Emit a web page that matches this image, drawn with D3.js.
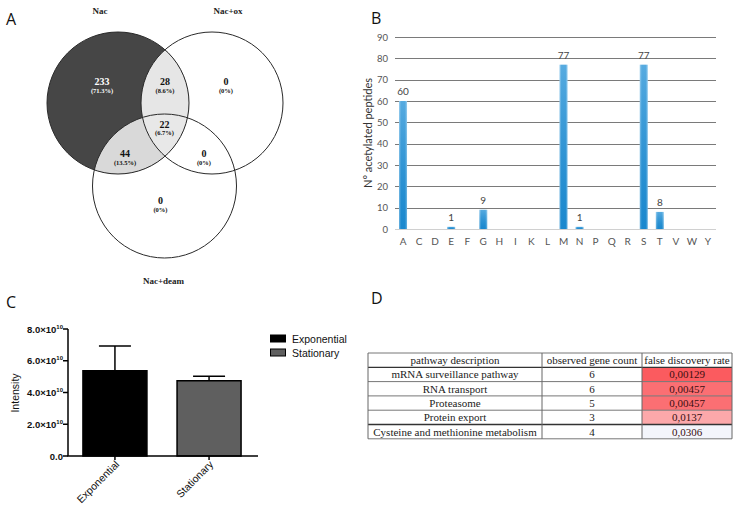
<!DOCTYPE html>
<html>
<head>
<meta charset="utf-8">
<script src="https://cdn.jsdelivr.net/npm/d3@7"></script>
<style>
  html, body { margin: 0; padding: 0; background: #fff; }
  svg { display: block; }
</style>
</head>
<body>
<svg id="fig" width="742" height="513"></svg>
<script>
// ---------------- DATA ----------------
// Panel A (Venn)
const vennSets = ["Nac", "Nac+ox", "Nac+deam"];
const vennRegions = ["Nac", "Nac∩ox", "ox", "Nac∩ox∩deam", "Nac∩deam", "ox∩deam", "deam"];
const vennCounts = [233, 28, 0, 22, 44, 0, 0];
const vennPercents = ["71.3%", "8.6%", "0%", "6.7%", "13.5%", "0%", "0%"];

// Panel B
const residues = ["A","C","D","E","F","G","H","I","K","L","M","N","P","Q","R","S","T","V","W","Y"];
const peptideCounts = [60,0,0,1,0,9,0,0,0,0,77,1,0,0,0,77,8,0,0,0];
const bTicks = [0,10,20,30,40,50,60,70,80,90];

// Panel C
const phases = ["Exponential", "Stationary"];
const intensityMean = [5.37e10, 4.74e10];
const intensitySD = [1.56e10, 0.28e10];
const cTicks = [0, 2e10, 4e10, 6e10, 8e10];

// Panel D
const tableHeader = ["pathway description", "observed gene count", "false discovery rate"];
const pathways = ["mRNA surveillance pathway", "RNA transport", "Proteasome", "Protein export", "Cysteine and methionine metabolism"];
const geneCounts = [6, 6, 5, 3, 4];
const fdrValues = [0.00129, 0.00457, 0.00457, 0.0137, 0.0306];
const fdrLabels = ["0,00129", "0,00457", "0,00457", "0,0137", "0,0306"];

// ---------------- DRAW ----------------
const svg = d3.select("#fig");
const panelFont = "'Open Sans', 'Liberation Sans', sans-serif";

function panelLabel(t, x, y) {
  svg.append("text").attr("x", x).attr("y", y).text(t)
    .attr("font-family", panelFont).attr("font-size", 16).attr("fill", "#111");
}
panelLabel("A", 6, 25);
panelLabel("B", 371, 24);
panelLabel("C", 6, 308);
panelLabel("D", 371, 304);

// ===== Panel A: Venn =====
(function () {
  const circles = [
    { cx: 118, cy: 103, r: 71 },
    { cx: 212, cy: 103, r: 71 },
    { cx: 164.5, cy: 186, r: 72 }
  ];
  const defs = svg.append("defs");
  circles.forEach((c, i) => {
    defs.append("clipPath").attr("id", "vc" + i)
      .append("circle").attr("cx", c.cx).attr("cy", c.cy).attr("r", c.r);
  });
  const g = svg.append("g");
  const nac = circles[0];
  g.append("circle").attr("cx", nac.cx).attr("cy", nac.cy).attr("r", nac.r).attr("fill", "#464646");
  g.append("g").attr("clip-path", "url(#vc1)")
    .append("circle").attr("cx", nac.cx).attr("cy", nac.cy).attr("r", nac.r).attr("fill", "#e6e6e6");
  g.append("g").attr("clip-path", "url(#vc2)")
    .append("circle").attr("cx", nac.cx).attr("cy", nac.cy).attr("r", nac.r).attr("fill", "#d9d9d9");
  g.append("g").attr("clip-path", "url(#vc2)")
    .append("g").attr("clip-path", "url(#vc1)")
    .append("circle").attr("cx", nac.cx).attr("cy", nac.cy).attr("r", nac.r).attr("fill", "#e8e8e8");
  g.selectAll("circle.outline").data(circles).join("circle").attr("class", "outline")
    .attr("cx", d => d.cx).attr("cy", d => d.cy).attr("r", d => d.r)
    .attr("fill", "none").attr("stroke", "#2a2a2a").attr("stroke-width", 1);

  // set titles
  const serif = "'Liberation Serif', 'DejaVu Serif', serif";
  const titlePos = [
    [nac.cx - 18, 14],
    [circles[1].cx + 16, 14],
    [circles[2].cx - 1, 284]
  ];
  vennSets.forEach((s, i) => {
    svg.append("text").attr("x", titlePos[i][0]).attr("y", titlePos[i][1]).text(s)
      .attr("text-anchor", "middle").attr("font-family", serif).attr("font-weight", "bold")
      .attr("font-size", 9).attr("fill", "#222");
  });

  // region label anchors derived from circle geometry
  const c0 = circles[0], c1 = circles[1], c2 = circles[2];
  const anchors = [
    [c0.cx - 16, c0.cy - 18],
    [(c0.cx + c1.cx) / 2, c0.cy - 18],
    [c1.cx + 14, c1.cy - 18],
    [c2.cx, (c0.cy + c2.cy) / 2 - 17],
    [c0.cx + 7, c2.cy - 29],
    [c1.cx - 8, c2.cy - 29],
    [c2.cx - 4, c2.cy + 18]
  ];
  vennRegions.forEach((r, i) => {
    const [x, y] = anchors[i];
    const col = i === 0 ? "#ffffff" : "#111";
    svg.append("text").attr("x", x).attr("y", y).text(vennCounts[i])
      .attr("text-anchor", "middle").attr("font-family", serif).attr("font-weight", "bold")
      .attr("font-size", 10).attr("fill", col);
    svg.append("text").attr("x", x).attr("y", y + 7.5).text("(" + vennPercents[i] + ")")
      .attr("text-anchor", "middle").attr("font-family", serif).attr("font-weight", "bold")
      .attr("font-size", 6.5).attr("fill", col);
  });
})();

// ===== Panel B: bar chart =====
(function () {
  const font = "Lato, 'Open Sans', sans-serif";
  const x = d3.scaleBand().domain(residues).range([395, 716]);
  const y = d3.scaleLinear().domain([0, 90]).range([229, 37]);
  const g = svg.append("g");

  const grad = svg.select("defs").append("linearGradient").attr("id", "barGrad")
    .attr("x1", 0).attr("x2", 1).attr("y1", 0).attr("y2", 0);
  grad.append("stop").attr("offset", "0%").attr("stop-color", "#7cc0ea");
  grad.append("stop").attr("offset", "25%").attr("stop-color", "#1f8fd6");
  grad.append("stop").attr("offset", "75%").attr("stop-color", "#1f8fd6");
  grad.append("stop").attr("offset", "100%").attr("stop-color", "#7cc0ea");
  const gradV = svg.select("defs").append("linearGradient").attr("id", "barGradV")
    .attr("x1", 0).attr("x2", 0).attr("y1", 0).attr("y2", 1);
  gradV.append("stop").attr("offset", "0%").attr("stop-color", "#ffffff").attr("stop-opacity", 0.25);
  gradV.append("stop").attr("offset", "100%").attr("stop-color", "#0060a0").attr("stop-opacity", 0.15);

  // gridlines
  g.selectAll("line.grid").data(bTicks).join("line")
    .attr("x1", 395).attr("x2", 716)
    .attr("y1", d => Math.round(y(d)) + 0.5).attr("y2", d => Math.round(y(d)) + 0.5)
    .attr("stroke", d => d === 0 ? "#d0d0d0" : "#7a7a7a").attr("stroke-width", 1);
  g.selectAll("text.ytick").data(bTicks).join("text")
    .attr("x", 388).attr("y", d => y(d) + 3.5).text(d => d)
    .attr("text-anchor", "end").attr("font-family", font).attr("font-size", 9.5).attr("fill", "#555");

  const data = residues.map((r, i) => ({ r, v: peptideCounts[i] }));
  const bw = 8;
  g.selectAll("rect.bar").data(data.filter(d => d.v > 0)).join("rect")
    .attr("x", d => x(d.r) + x.bandwidth() / 2 - bw / 2)
    .attr("y", d => y(d.v)).attr("width", bw)
    .attr("height", d => y(0) - y(d.v)).attr("fill", "url(#barGrad)");
  g.selectAll("rect.barv").data(data.filter(d => d.v > 0)).join("rect")
    .attr("x", d => x(d.r) + x.bandwidth() / 2 - bw / 2)
    .attr("y", d => y(d.v)).attr("width", bw)
    .attr("height", d => y(0) - y(d.v)).attr("fill", "url(#barGradV)");
  g.selectAll("text.val").data(data.filter(d => d.v > 0)).join("text")
    .attr("x", d => x(d.r) + x.bandwidth() / 2).attr("y", d => y(d.v) - 6)
    .text(d => d.v).attr("text-anchor", "middle")
    .attr("font-family", font).attr("font-size", 10).attr("fill", "#444");
  g.selectAll("text.xl").data(residues).join("text")
    .attr("x", d => x(d) + x.bandwidth() / 2).attr("y", 245).text(d => d)
    .attr("text-anchor", "middle").attr("font-family", font).attr("font-size", 10).attr("fill", "#555");
  svg.append("text").attr("transform", "translate(372,133) rotate(-90)")
    .text("N° acetylated peptides").attr("text-anchor", "middle")
    .attr("font-family", font).attr("font-size", 11).attr("fill", "#333");
})();

// ===== Panel C: bar chart with error bars =====
(function () {
  const font = "Arial, 'Liberation Sans', sans-serif";
  const y = d3.scaleLinear().domain([0, 8e10]).range([456, 329]);
  const x = d3.scaleBand().domain(phases).range([66, 258]).paddingInner(0.32).paddingOuter(0.18);
  const fills = ["#000000", "#5f5f5f"];
  const g = svg.append("g");
  const data = phases.map((p, i) => ({ p, m: intensityMean[i], sd: intensitySD[i], i }));

  // error bars (upper only)
  g.selectAll("line.eb").data(data).join("line")
    .attr("x1", d => x(d.p) + x.bandwidth() / 2).attr("x2", d => x(d.p) + x.bandwidth() / 2)
    .attr("y1", d => y(d.m)).attr("y2", d => y(d.m + d.sd))
    .attr("stroke", "#000").attr("stroke-width", 1.5);
  g.selectAll("line.cap").data(data).join("line")
    .attr("x1", d => x(d.p) + x.bandwidth() / 2 - 16).attr("x2", d => x(d.p) + x.bandwidth() / 2 + 16)
    .attr("y1", d => y(d.m + d.sd)).attr("y2", d => y(d.m + d.sd))
    .attr("stroke", "#000").attr("stroke-width", 1.5);
  g.selectAll("rect.b").data(data).join("rect")
    .attr("x", d => x(d.p)).attr("y", d => y(d.m))
    .attr("width", x.bandwidth()).attr("height", d => y(0) - y(d.m))
    .attr("fill", d => fills[d.i]).attr("stroke", "#000").attr("stroke-width", 1.5);

  // axes
  g.append("line").attr("x1", 68).attr("x2", 68).attr("y1", 329).attr("y2", 456)
    .attr("stroke", "#000").attr("stroke-width", 1.5);
  g.append("line").attr("x1", 67.25).attr("x2", 258).attr("y1", 456).attr("y2", 456)
    .attr("stroke", "#000").attr("stroke-width", 1.5);
  g.selectAll("line.tk").data(cTicks).join("line")
    .attr("x1", 63).attr("x2", 68).attr("y1", d => y(d)).attr("y2", d => y(d))
    .attr("stroke", "#000").attr("stroke-width", 1.5);
  g.selectAll("line.xtk").data(phases).join("line")
    .attr("x1", d => x(d) + x.bandwidth() / 2).attr("x2", d => x(d) + x.bandwidth() / 2)
    .attr("y1", 456).attr("y2", 460).attr("stroke", "#000").attr("stroke-width", 1.5);

  const tl = g.selectAll("text.yt").data(cTicks).join("text")
    .attr("x", 63).attr("y", d => y(d) + 3.5)
    .attr("text-anchor", "end").attr("font-family", font).attr("font-weight", "bold")
    .attr("font-size", 9.5).attr("fill", "#111");
  tl.each(function (d) {
    const t = d3.select(this);
    if (d === 0) { t.text("0.0"); return; }
    const mant = (d / 1e10).toFixed(1);
    t.append("tspan").text(mant + "×10");
    t.append("tspan").text("10").attr("font-size", 6).attr("dy", -4);
  });

  svg.append("text").attr("transform", "translate(19,393) rotate(-90)")
    .text("Intensity").attr("text-anchor", "middle")
    .attr("font-family", font).attr("font-size", 10.5).attr("fill", "#111");

  g.selectAll("text.xl").data(phases).join("text")
    .attr("transform", d => `translate(${x(d) + x.bandwidth() / 2 + 5},${465}) rotate(-45)`)
    .text(d => d).attr("text-anchor", "end")
    .attr("font-family", font).attr("font-size", 10.5).attr("fill", "#111");

  // legend
  const lg = svg.append("g");
  phases.forEach((p, i) => {
    lg.append("rect").attr("x", 270.5).attr("y", 335 + i * 14).attr("width", 15).attr("height", 7)
      .attr("fill", fills[i]).attr("stroke", "#000").attr("stroke-width", 1);
    lg.append("text").attr("x", 292).attr("y", 342.5 + i * 14).text(p)
      .attr("font-family", font).attr("font-size", 10.5).attr("fill", "#111");
  });
})();

// ===== Panel D: table =====
(function () {
  const serif = "'Liberation Serif', 'Times New Roman', serif";
  const colX = [368, 542, 642, 732];
  const top = 353, rowH = 14.3;
  const nRows = pathways.length + 1;
  const fdrColor = d3.scaleLinear().domain([0.00129, 0.0137, 0.0306])
    .range(["#fb5b5f", "#fca8aa", "#f3f5fb"]);
  const g = svg.append("g");

  // FDR cells
  g.selectAll("rect.fdr").data(fdrValues).join("rect")
    .attr("x", colX[2]).attr("y", (d, i) => top + rowH * (i + 1))
    .attr("width", colX[3] - colX[2]).attr("height", rowH)
    .attr("fill", d => fdrColor(d));

  // grid lines
  d3.range(nRows + 1).forEach(i => {
    g.append("line").attr("x1", colX[0]).attr("x2", colX[3])
      .attr("y1", top + rowH * i).attr("y2", top + rowH * i)
      .attr("stroke", i === 1 || i === 5 ? "#333" : "#777").attr("stroke-width", i === 1 || i === 5 ? 1.3 : 1);
  });
  colX.forEach(cx => {
    g.append("line").attr("x1", cx).attr("x2", cx).attr("y1", top).attr("y2", top + rowH * nRows)
      .attr("stroke", "#666").attr("stroke-width", 1);
  });

  const cellText = (txt, col, row, color) => {
    g.append("text").attr("x", (colX[col] + colX[col + 1]) / 2)
      .attr("y", top + rowH * row + rowH / 2 + 4).text(txt)
      .attr("text-anchor", "middle").attr("font-family", serif).attr("font-size", 11)
      .attr("fill", color || "#222");
  };
  tableHeader.forEach((h, c) => cellText(h, c, 0));
  pathways.forEach((p, i) => {
    cellText(p, 0, i + 1);
    cellText(geneCounts[i], 1, i + 1);
    cellText(fdrLabels[i], 2, i + 1, "#3a1010");
  });
})();
</script>
</body>
</html>
